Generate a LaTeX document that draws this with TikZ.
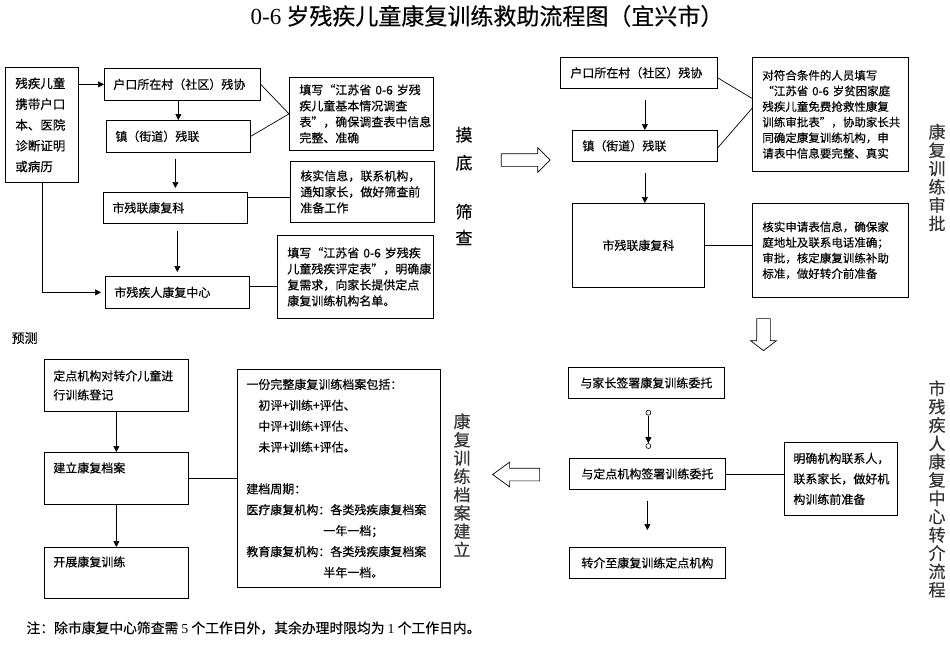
\documentclass[tikz,border=0pt]{standalone}
\usepackage{fontspec}
\setmainfont{Noto Sans CJK SC}[FakeBold=0.3]
\newfontfamily\latinserif{Liberation Serif}
\usetikzlibrary{shapes.arrows,positioning,calc,arrows.meta}

\newcommand{\fsz}[2]{\fontsize{#1}{#2}\selectfont}

\tikzset{
  box/.style={draw, line width=.7pt, anchor=north west, align=left,
    inner xsep=9pt, inner ysep=0pt, font=\fsz{12}{16}},
  cbox/.style={box, align=center},
  note/.style={box, inner xsep=10pt},
  arr/.style={-{Triangle[length=6pt,width=6pt]}, line width=.7pt},
  link/.style={line width=.7pt},
  bigarrow/.style={single arrow, draw, line width=.7pt, inner xsep=0pt,
    inner ysep=6pt, single arrow head extend=6pt},
  dot/.style={circle, draw, line width=.6pt, inner sep=0pt, minimum size=5pt},
  side/.style={align=center, font=\fsz{17}{18.3}, text=black!80},
}

\begin{document}
\begin{tikzpicture}[x=1pt,y=-1pt]
\useasboundingbox (0,0) rectangle (950,649);

\node[font=\fsz{23}{25}] (title) at (487,16) {{\latinserif 0-6} 岁残疾儿童康复训练救助流程图（宜兴市）};

% 摸底筛查
\node[box, inner xsep=10pt, text width=53pt, minimum height=115pt, font=\fsz{12.5}{20.8}] (kid) at (5,67) {残疾儿童\\携带户口\\本、医院\\诊断证明\\或病历};
\node[box, text width=138pt, minimum height=32pt] (cun1) at (104,68) {户口所在村（社区）残协};
\node[box, text width=126pt, minimum height=32pt] (zhen1) at (106,120) {镇（街道）残联};
\node[box, text width=126pt, minimum height=31pt] (kfk1) at (103,192) {市残联康复科};
\node[box, text width=126pt, minimum height=32pt] (zx1) at (105,276) {市残疾人康复中心};
\node[note, text width=124pt, minimum height=73pt] (noteA) at (289,77) {填写“江苏省 0-6 岁残\\疾儿童基本情况调查\\表”，确保调查表中信息\\完整、准确};
\node[note, text width=124pt, minimum height=61pt] (noteB) at (290,161) {核实信息，联系机构，\\通知家长，做好筛查前\\准备工作};
\node[note, text width=136pt, minimum height=83pt] (noteC) at (277,235) {填写“江苏省 0-6 岁残疾\\儿童残疾评定表”，明确康\\复需求，向家长提供定点\\康复训练机构名单。};
\node[align=center, font=\fsz{17}{18}] (moshai) at (464,186) {摸\\[10pt]底\\[31pt]筛\\[8pt]查};

\draw[arr] (kid.east |- cun1.west) -- (cun1.west);
\draw[arr] (cun1.south -| zhen1.north) -- (zhen1.north);
\draw[arr, shorten <=6pt, shorten >=4pt] (zhen1.south -| kfk1.north) -- (kfk1.north);
\draw[arr, shorten <=7pt, shorten >=4pt] (kfk1.south -| zx1.north) -- (zx1.north);
\draw[arr, shorten >=4pt] (kid.south) |- (zx1.west);
\draw[link] (cun1.east) -- (noteA.west) -- (zhen1.east);
\draw[link] ([yshift=11pt]kfk1.east) -- ([yshift=11pt]kfk1.east -| noteB.west);
\draw[link] ([yshift=6pt]zx1.east) -- ([yshift=6pt]zx1.east -| noteC.west);

\node[bigarrow, minimum height=49pt] (toright) at (522.5,160) {};

% 康复训练审批
\node[box, inner xsep=10pt, text width=137pt, minimum height=31pt] (cun2) at (560,57) {户口所在村（社区）残协};
\node[box, inner xsep=10pt, text width=125pt, minimum height=31pt] (zhen2) at (572,130) {镇（街道）残联};
\node[cbox, text width=114pt, minimum height=84pt] (kfk2) at (572,203) {市残联康复科};
\node[note, text width=136pt, minimum height=114pt, font=\fsz{11.5}{15.6}] (noteD) at (752,57) {对符合条件的人员填写\\“江苏省 0-6 岁贫困家庭\\残疾儿童免费抢救性康复\\训练审批表”，协助家长共\\同确定康复训练机构，申\\请表中信息要完整、真实};
\node[note, text width=136pt, minimum height=94pt, font=\fsz{11.5}{15.6}] (noteE) at (752,203) {核实申请表信息，确保家\\庭地址及联系电话准确；\\审批，核定康复训练补助\\标准，做好转介前准备};
\node[side] (shenpi) at (937,177.5) {康\\复\\训\\练\\审\\批};

\draw[arr, shorten <=11pt] (cun2.south -| zhen2.north) -- (zhen2.north);
\draw[arr, shorten <=11pt] (zhen2.south) -- (zhen2.south |- kfk2.north);
\draw[link] ([yshift=-5pt]cun2.east) -- ([yshift=16pt]noteD.west);
\draw[link] ([yshift=-2pt]zhen2.east) -- ([yshift=6pt]noteD.west);
\draw[link] (kfk2.east) -- (kfk2.east -| noteE.west);

\node[bigarrow, inner xsep=6.5pt, inner ysep=0pt, minimum height=32pt, shape border rotate=270, single arrow tip angle=105] (todown) at (763.5,332) {};

% 市残疾人康复中心转介流程
\node[cbox, text width=138pt, minimum height=31pt] (qian) at (568,367) {与家长签署康复训练委托};
\node[cbox, text width=138pt, minimum height=31pt] (ding) at (569,458) {与定点机构签署训练委托};
\node[cbox, text width=138pt, minimum height=31pt] (zhuan) at (569,547) {转介至康复训练定点机构};
\node[note, inner xsep=9pt, text width=95pt, minimum height=73pt, font=\fsz{12}{20.5}] (noteF) at (784,442) {明确机构联系人，\\联系家长，做好机\\构训练前准备};
\node[dot] (c1) at ($(qian.south)+(2,14)$) {};
\node[dot] (c2) at ($(ding.north)+(1,-12)$) {};
\node[side] (zhuanjie) at (937,489) {市\\残\\疾\\人\\康\\复\\中\\心\\转\\介\\流\\程};

\draw[arr] (c1) -- (c2);
\draw[arr, shorten <=11pt, shorten >=17pt] (ding.south) -- (zhuan.north);
\draw[link] (ding.east) -- (ding.east -| noteF.west);

\node[bigarrow, minimum height=47pt, shape border rotate=180, single arrow tip angle=72] (toleft) at (520.5,474.5) {};

% 康复训练档案建立
\node[font=\fsz{13}{15}, anchor=west] (yuce) at (8,338) {预测};
\node[box, text width=126pt, minimum height=52pt, font=\fsz{12}{19}] (reg) at (44,359) {定点机构对转介儿童进\\行训练登记};
\node[box, text width=126pt, minimum height=52pt, font=\fsz{12}{19}] (dangan) at (44,452) {建立康复档案\\[3pt]\mbox{}};
\node[box, text width=126pt, minimum height=51pt, font=\fsz{12}{19}] (kaizhan) at (44,547) {开展康复训练\\[4pt]\mbox{}};
\node[note, inner xsep=9pt, text width=185pt, minimum height=218pt, font=\fsz{12}{20.9}] (noteG) at (237,369) {一份完整康复训练档案包括：\\
\hspace*{12pt}初评+训练+评估、\\
\hspace*{12pt}中评+训练+评估、\\
\hspace*{12pt}未评+训练+评估。\\[20.9pt]
建档周期：\\
医疗康复机构：各类残疾康复档案\\
\hspace*{77pt}一年一档；\\
教育康复机构：各类残疾康复档案\\
\hspace*{77pt}半年一档。};
\node[side] (jianli) at (462,485) {康\\复\\训\\练\\档\\案\\建\\立};

\draw[arr] (reg) -- (dangan);
\draw[arr] (dangan) -- (kaizhan);
\draw[link] (dangan.east) -- (noteG.west);

\node[font=\fsz{13.8}{16}, anchor=west] (footer) at (23,628) {注：除市康复中心筛查需 {\latinserif 5} 个工作日外，其余办理时限均为 {\latinserif 1} 个工作日内。};
\end{tikzpicture}
\end{document}
